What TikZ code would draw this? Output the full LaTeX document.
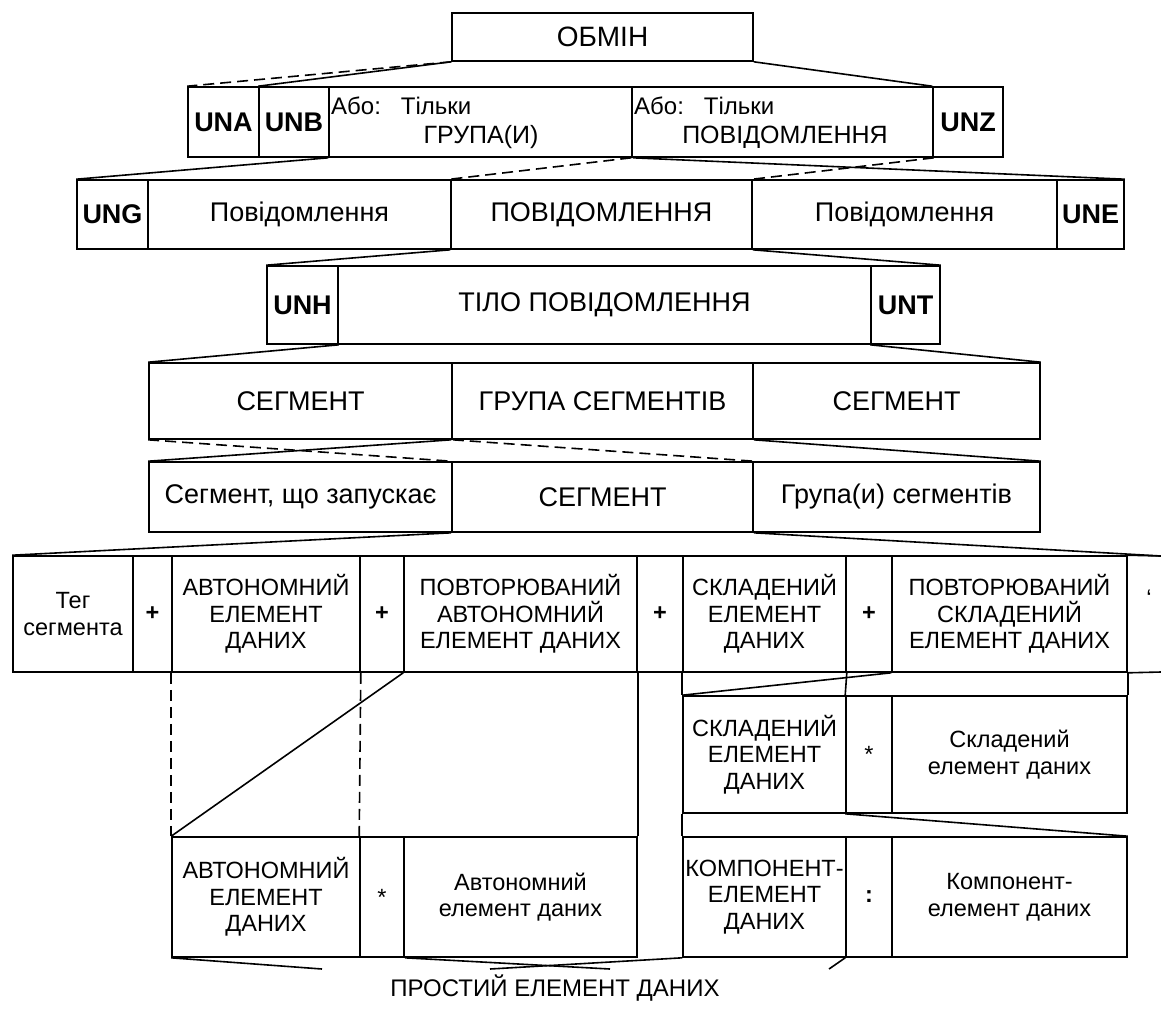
\documentclass[tikz,border=0pt]{standalone}
\usepackage{fontspec}
\setmainfont{Liberation Sans}
% one box of the structure: name, x1, y1, x2, y2, text
\newcommand{\segcell}[6]{%
  \node[cell, minimum width={#4-#2}, minimum height={#5-#3}] (#1) at ({(#2+#4)/2},{(#3+#5)/2}) {#6};}
\begin{document}
\begin{tikzpicture}[x=1pt,y=-1pt,
    cell/.style={draw, line width=1.6pt, inner sep=0pt, align=center, font=\fontsize{27}{30}\selectfont},
    mid/.style={font=\fontsize{25}{28}\selectfont},
    txt/.style={inner sep=0pt, font=\fontsize{24}{27}\selectfont},
    link/.style={line width=1.6pt},
    opt/.style={line width=1.6pt, dash pattern=on 11pt off 6pt}]
  \useasboundingbox (0,0) rectangle (1161,1010);
  % exchange
  \segcell{obmin}{452}{13}{753}{61}{\fontsize{28}{30}\selectfont ОБМІН}
  \segcell{una}{188}{87}{259}{157}{\textbf{UNA}}
  \segcell{unb}{259}{87}{329}{157}{\textbf{UNB}}
  \segcell{grp}{329}{87}{632}{157}{}
  \segcell{msg}{632}{87}{933}{157}{}
  \segcell{unz}{933}{87}{1003}{157}{\textbf{UNZ}}
  \node[txt, anchor=west] (grpor) at (331,106) {Або:\hspace{20pt}Тільки};
  \node[txt, mid] (grpname) at (481,137) {ГРУПА(И)};
  \node[txt, anchor=west] (msgor) at (634,106) {Або:\hspace{20pt}Тільки};
  \node[txt, mid] (msgname) at (785,137) {ПОВІДОМЛЕННЯ};
  \draw[opt] (obmin.south west) -- (una.north west);
  \draw[link] (obmin.south west) -- (unb.north west);
  \draw[link] (obmin.south east) -- (unz.north west);
  % functional group
  \segcell{ung}{77}{180}{148}{249}{\textbf{UNG}}
  \segcell{msga}{148}{180}{451}{249}{Повідомлення}
  \segcell{msgb}{451}{180}{752}{249}{ПОВІДОМЛЕННЯ}
  \segcell{msgc}{752}{180}{1057}{249}{Повідомлення}
  \segcell{une}{1057}{180}{1124}{249}{\textbf{UNE}}
  \draw[link] (grp.south west) -- (ung.north west);
  \draw[link] (grp.south east) -- (une.north east);
  \draw[opt] (msg.south west) -- (msgb.north west);
  \draw[opt] (msg.south east) -- (msgb.north east);
  % message
  \segcell{unh}{267}{266}{338}{344}{\textbf{UNH}}
  \segcell{body}{338}{266}{871}{344}{ТІЛО ПОВІДОМЛЕННЯ}
  \segcell{unt}{871}{266}{940}{344}{\textbf{UNT}}
  \draw[link] (msgb.south west) -- (unh.north west);
  \draw[link] (msgb.south east) -- (unt.north east);
  % body
  \segcell{sega}{149}{363}{452}{439}{СЕГМЕНТ}
  \segcell{seggrp}{452}{363}{753}{439}{ГРУПА СЕГМЕНТІВ}
  \segcell{segb}{753}{363}{1040}{439}{СЕГМЕНТ}
  \draw[link] (unh.south east) -- (sega.north west);
  \draw[link] (unt.south west) -- (segb.north east);
  % segment group
  \segcell{trig}{149}{462}{452}{532}{Сегмент, що запускає}
  \segcell{segc}{452}{462}{753}{532}{СЕГМЕНТ}
  \segcell{grps}{753}{462}{1040}{532}{Група(и) сегментів}
  \draw[opt] (sega.south west) -- (segc.north west);
  \draw[opt] (sega.south east) -- (segc.north east);
  \draw[link] (seggrp.south west) -- (trig.north west);
  \draw[link] (seggrp.south east) -- (grps.north east);
  % segment
  \begin{scope}[cell/.append style={font=\fontsize{23.5}{26.5}\selectfont}]
  \segcell{tag}{13}{556}{133}{672}{Тег\\сегмента}
  \segcell{plusa}{133}{556}{172}{672}{\textbf{+}}
  \segcell{auto}{172}{556}{360}{672}{АВТОНОМНИЙ\\ЕЛЕМЕНТ\\ДАНИХ}
  \segcell{plusb}{360}{556}{404}{672}{\textbf{+}}
  \segcell{rauto}{404}{556}{637}{672}{ПОВТОРЮВАНИЙ\\АВТОНОМНИЙ\\ЕЛЕМЕНТ ДАНИХ}
  \segcell{plusc}{637}{556}{683}{672}{\textbf{+}}
  \segcell{comp}{683}{556}{846}{672}{СКЛАДЕНИЙ\\ЕЛЕМЕНТ\\ДАНИХ}
  \segcell{plusd}{846}{556}{892}{672}{\textbf{+}}
  \segcell{rcomp}{892}{556}{1127}{672}{ПОВТОРЮВАНИЙ\\СКЛАДЕНИЙ\\ЕЛЕМЕНТ ДАНИХ}
  \coordinate (edgetop) at (1161,556);
  \coordinate (edgebot) at (1161,672);
  \draw[link] (rcomp.north east) -- (edgetop);
  \draw[link] (rcomp.south east) -- (edgebot);
  \node[txt] (more) at (1149,598) {‘};
  \draw[link] (segc.south west) -- (tag.north west);
  \draw[link] (segc.south east) -- (edgetop);
  % composite data element
  \segcell{cmpel}{683}{696}{846}{813}{СКЛАДЕНИЙ\\ЕЛЕМЕНТ\\ДАНИХ}
  \segcell{stara}{846}{696}{892}{813}{*}
  \segcell{cmptxt}{892}{696}{1127}{813}{Складений\\елемент даних}
  \draw[link] (rcomp.south west) -- (cmpel.north west);
  \draw[link] (comp.south west) -- (cmpel.north west);
  \draw[link] (comp.south east) -- (stara.north west);
  \draw[link] (rcomp.south east) -- (cmptxt.north east);
  % component data element
  \segcell{kel}{683}{837}{846}{957}{КОМПОНЕНТ-\\ЕЛЕМЕНТ\\ДАНИХ}
  \segcell{colon}{846}{837}{892}{957}{\textbf{:}}
  \segcell{ktxt}{892}{837}{1127}{957}{Компонент-\\елемент даних}
  \draw[link] (cmpel.south west) -- (kel.north west);
  \draw[link] (stara.south west) -- (ktxt.north east);
  % simple data element
  \segcell{ael}{172}{837}{360}{957}{АВТОНОМНИЙ\\ЕЛЕМЕНТ\\ДАНИХ}
  \segcell{starb}{360}{837}{404}{957}{*}
  \segcell{atxt}{404}{837}{637}{957}{Автономний\\елемент даних}
  \end{scope}
  \draw[opt] (auto.south west) -- (ael.north west);
  \draw[opt] (auto.south east) -- (starb.north west);
  \draw[link] (rauto.south west) -- (ael.north west);
  \draw[link] (rauto.south east) -- (atxt.north east);
  % cut lines towards the simple element
  \coordinate (cuta) at (322,969);
  \coordinate (cutb) at (610,969);
  \coordinate (cutc) at (490,969);
  \coordinate (cutd) at (829,969);
  \draw[link] (ael.south west) -- (cuta);
  \draw[link] (starb.south east) -- (cutb);
  \draw[link] (kel.south west) -- (cutc);
  \draw[link] (colon.south west) -- (cutd);
  \node[txt] (simple) at (555,988) {ПРОСТИЙ ЕЛЕМЕНТ ДАНИХ};
\end{tikzpicture}
\end{document}
